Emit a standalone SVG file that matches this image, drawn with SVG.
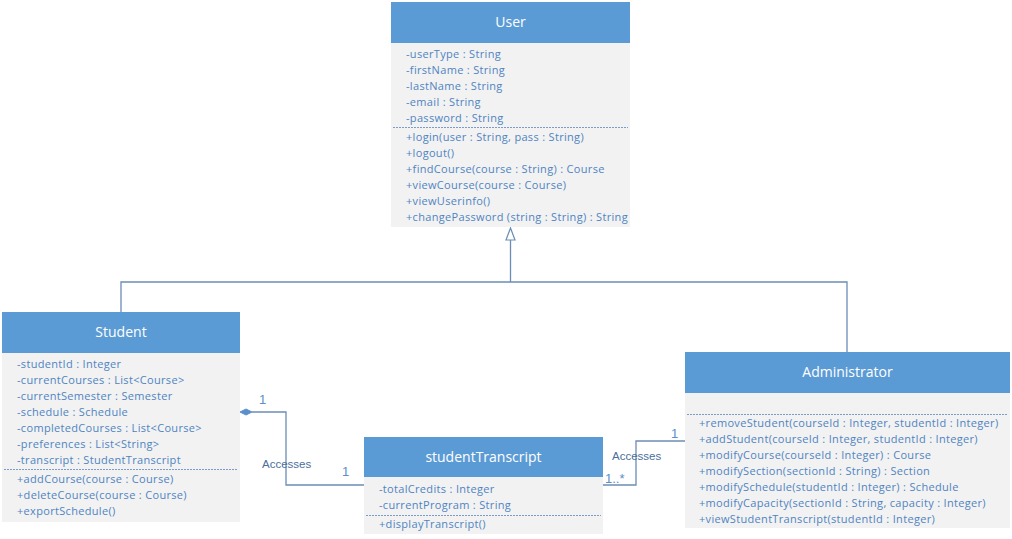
<svg xmlns="http://www.w3.org/2000/svg" width="1012" height="539" viewBox="0 0 1012 539">
<style>
.hdr{fill:#5b9bd5}
.body{fill:#f2f2f2}
.title{font-family:"Open Sans","Liberation Sans",sans-serif;font-size:14px;fill:#ffffff;text-anchor:middle}
.t{font-family:"Open Sans","Liberation Sans",sans-serif;font-size:11px;letter-spacing:0.32px;fill:#4f84c2}
.lbl{font-family:"Liberation Sans",Arial,sans-serif;font-size:11.5px;fill:#4a6f9b}
.num{font-family:"Liberation Sans",Arial,sans-serif;font-size:13px;fill:#5b8fc9}
.sep{stroke:#7a9cc6;stroke-width:1;stroke-dasharray:2,1}
.conn{fill:none;stroke:#6b8db5;stroke-width:1.3}
</style>
<rect width="1012" height="539" fill="#ffffff"/>
<g id="connectors">
<polyline class="conn" points="121,312 121,282 847,282 847,352"/>
<line class="conn" x1="510.5" y1="282" x2="510.5" y2="240"/>
<polygon points="510.5,228 506,240 515,240" fill="#ffffff" stroke="#6b8db5" stroke-width="1.2"/>
<polyline class="conn" points="252,412 286,412 286,485 364,485"/>
<polygon points="240,412 246,409 252,412 246,415" fill="#5b8fc9" stroke="#5b8fc9" stroke-width="1"/>
<polyline class="conn" points="603,485 636,485 636,441 685,441"/>
<text class="num" x="259" y="404">1</text>
<text class="lbl" x="262" y="468">Accesses</text>
<text class="num" x="342" y="476">1</text>
<text class="num" x="671" y="438">1</text>
<text class="lbl" x="612" y="460">Accesses</text>
<text class="num" x="605" y="483">1..*</text>
</g>
<g id="User">
<rect class="body" x="391" y="42" width="239" height="185"/>
<rect class="hdr" x="391" y="2" width="239" height="41"/>
<text class="title" x="510.5" y="27">User</text>
<text class="t" x="406" y="58">-userType : String</text>
<text class="t" x="406" y="74">-firstName : String</text>
<text class="t" x="406" y="90">-lastName : String</text>
<text class="t" x="406" y="106">-email : String</text>
<text class="t" x="406" y="122">-password : String</text>
<line class="sep" x1="393" y1="127.5" x2="628" y2="127.5"/>
<text class="t" x="406" y="141">+login(user : String, pass : String)</text>
<text class="t" x="406" y="157">+logout()</text>
<text class="t" x="406" y="173">+findCourse(course : String) : Course</text>
<text class="t" x="406" y="189">+viewCourse(course : Course)</text>
<text class="t" x="406" y="205">+viewUserinfo()</text>
<text class="t" x="406" y="221">+changePassword (string : String) : String</text>
</g>
<g id="Student">
<rect class="body" x="2" y="353" width="238" height="169"/>
<rect class="hdr" x="2" y="312" width="238" height="41"/>
<text class="title" x="121" y="337">Student</text>
<text class="t" x="17" y="368">-studentId : Integer</text>
<text class="t" x="17" y="384">-currentCourses : List&lt;Course&gt;</text>
<text class="t" x="17" y="400">-currentSemester : Semester</text>
<text class="t" x="17" y="416">-schedule : Schedule</text>
<text class="t" x="17" y="432">-completedCourses : List&lt;Course&gt;</text>
<text class="t" x="17" y="448">-preferences : List&lt;String&gt;</text>
<text class="t" x="17" y="464">-transcript : StudentTranscript</text>
<line class="sep" x1="4" y1="469.5" x2="238" y2="469.5"/>
<text class="t" x="17" y="483">+addCourse(course : Course)</text>
<text class="t" x="17" y="499">+deleteCourse(course : Course)</text>
<text class="t" x="17" y="515">+exportSchedule()</text>
</g>
<g id="studentTranscript">
<rect class="body" x="364" y="477" width="239" height="57"/>
<rect class="hdr" x="364" y="437" width="239" height="40"/>
<text class="title" x="483.5" y="462">studentTranscript</text>
<text class="t" x="379" y="493">-totalCredits : Integer</text>
<text class="t" x="379" y="509">-currentProgram : String</text>
<line class="sep" x1="366" y1="515.5" x2="601" y2="515.5"/>
<text class="t" x="379" y="528">+displayTranscript()</text>
</g>
<g id="Administrator">
<rect class="body" x="685" y="393" width="325" height="135"/>
<rect class="hdr" x="685" y="352" width="325" height="41"/>
<text class="title" x="847.5" y="377">Administrator</text>
<line class="sep" x1="687" y1="414.5" x2="1008" y2="414.5"/>
<text class="t" x="699" y="427">+removeStudent(courseId : Integer, studentId : Integer)</text>
<text class="t" x="699" y="443">+addStudent(courseId : Integer, studentId : Integer)</text>
<text class="t" x="699" y="459">+modifyCourse(courseId : Integer) : Course</text>
<text class="t" x="699" y="475">+modifySection(sectionId : String) : Section</text>
<text class="t" x="699" y="491">+modifySchedule(studentId : Integer) : Schedule</text>
<text class="t" x="699" y="507">+modifyCapacity(sectionId : String, capacity : Integer)</text>
<text class="t" x="699" y="523">+viewStudentTranscript(studentId : Integer)</text>
</g>
</svg>
